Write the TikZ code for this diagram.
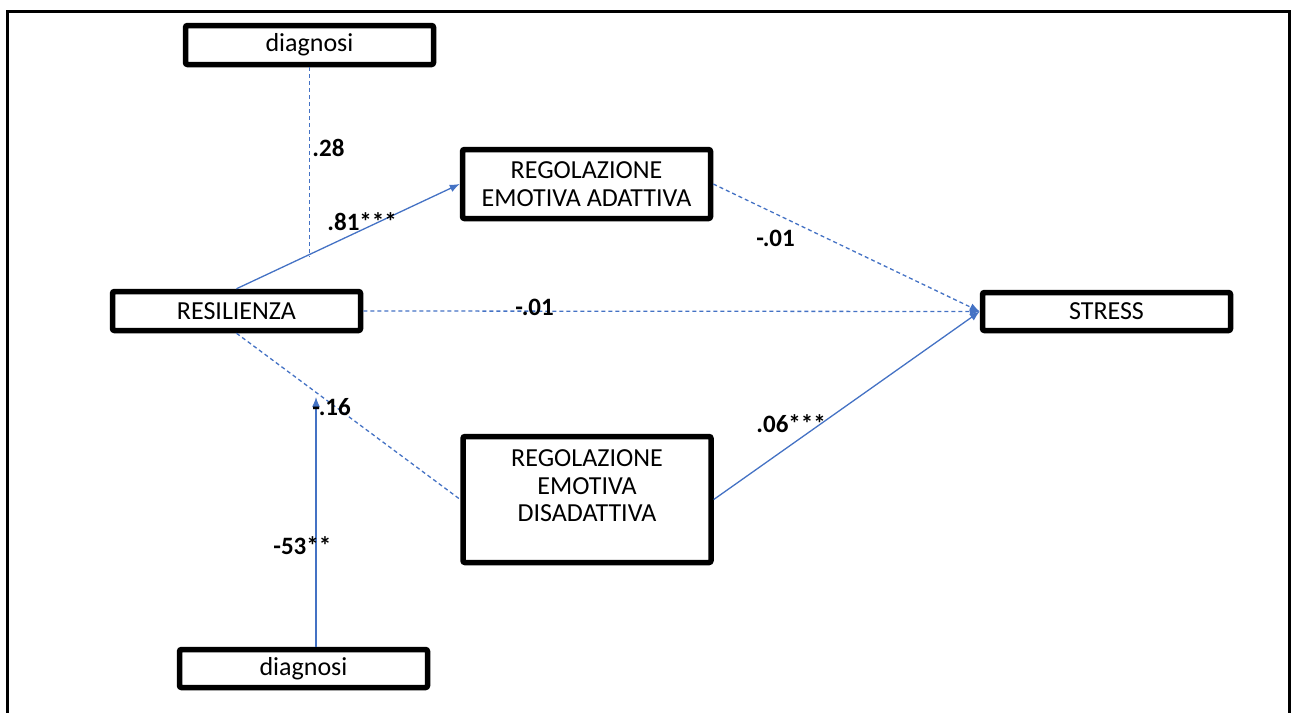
\documentclass[tikz,border=0pt]{standalone}
\usepackage{fontspec}
\setmainfont{Carlito}
\usetikzlibrary{arrows.meta}
\definecolor{pathblue}{HTML}{4472C4}
\tikzset{
  box/.style={draw, line width=2.75pt, rounded corners=1pt, minimum width=124pt,
    minimum height=19.5pt, inner sep=0pt, align=center,
    font=\fontsize{13}{13.8}\selectfont},
  coef/.style={anchor=west, inner sep=0pt, font=\fontsize{12.5}{14}\selectfont\bfseries},
  arr/.style={-{Latex[length=5pt,width=4pt]}},
  sig/.style={draw=pathblue, line width=0.65pt},
  ns/.style={draw=pathblue, line width=0.65pt, dash pattern=on 2pt off 1.5pt}
}
\begin{document}
\begin{tikzpicture}[x=0.5pt,y=-0.5pt]
\useasboundingbox (0,0) rectangle (1292,713);
\draw[line width=1.5pt] (7.5,713) |- (1289.5,11.5) -- (1289.5,713);

\node[box] (diagA) at (309.5,45) {diagnosi};
\node[box, minimum height=34.5pt] (regA) at (586.5,184) {REGOLAZIONE\\EMOTIVA ADATTIVA};
\node[box] (res) at (236.5,311) {RESILIENZA};
\node[box, minimum height=19pt] (stress) at (1106.5,311.5) {STRESS};
\node[box, minimum height=63pt] (regD) at (587,499.5) {REGOLAZIONE\\EMOTIVA\\DISADATTIVA\\\mbox{}};
\node[box, minimum height=19pt] (diagB) at (303.5,668.5) {diagnosi};

\draw[sig, arr] (res.north) -- coordinate[pos=0.31] (m) (regA.west);
\draw[ns] (diagA.south) -- (diagA.south |- m);
\draw[ns, arr] (res.east) -- (stress.west);
\draw[ns, arr] (regA.east) -- (stress.west);
\draw[ns] (res.south) -- (regD.west);
\draw[sig, arr] (regD.east) -- (stress.west);
\coordinate (hit) at (316,397);
\draw[sig, arr] (hit |- diagB.north) -- (hit);

\def\coefs{1/312/148/{.28},2/327/222/{.81***},3/515/307/{-.01},4/756/238/{-.01},5/312/407/{-.16},6/756/424/{.06***},7/273/546/{-53**}}
\foreach \i/\x/\y/\val in \coefs
  \node[coef] (c\i) at (\x,\y) {\val};

\end{tikzpicture}
\end{document}
